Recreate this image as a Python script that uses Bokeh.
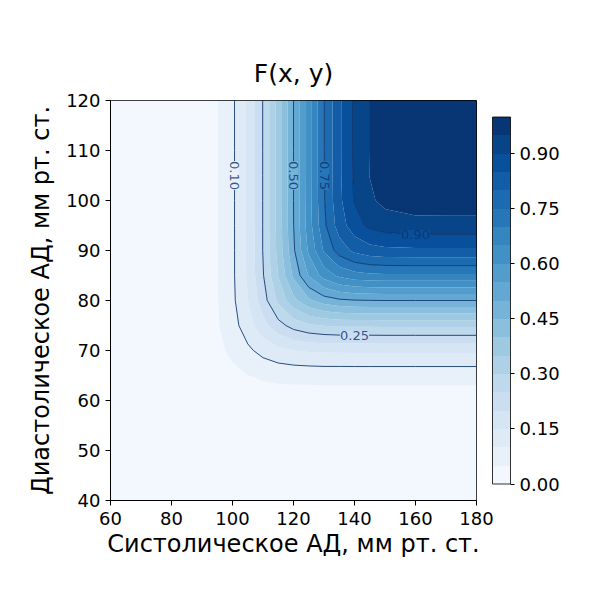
import numpy as np

from bokeh.core.properties import value
from bokeh.embed import file_html
from bokeh.models import (ColorBar,
                          ColumnDataSource,
                          FixedTicker,
                          LinearColorMapper,
                          PrintfTickFormatter)
from bokeh.palettes import Blues256
from bokeh.plotting import figure
from bokeh.resources import INLINE

# Grid of the joint distribution function F(x, y), estimated from the bands
# and contour lines of the picture.  x - systolic, y - diastolic, mm Hg.
SYS_BP = [60, 80, 90, 95, 100, 105, 110, 115, 120, 125, 130, 135, 140,
          145, 150, 160, 170, 180]
DIA_BP = [40, 50, 55, 60, 65, 70, 75, 80, 85, 90, 95, 100, 105, 110, 120]

# one row per DIA_BP value, one column per SYS_BP value
F_TABLE = [
    [0.000, 0.000, 0.000, 0.000, 0.000, 0.000, 0.000, 0.000, 0.000,
     0.000, 0.000, 0.000, 0.000, 0.000, 0.000, 0.000, 0.000, 0.000],
    [0.000, 0.001, 0.001, 0.001, 0.001, 0.001, 0.001, 0.001, 0.001,
     0.001, 0.001, 0.001, 0.001, 0.001, 0.001, 0.001, 0.001, 0.001],
    [0.000, 0.001, 0.003, 0.005, 0.005, 0.006, 0.006, 0.006, 0.006,
     0.006, 0.006, 0.006, 0.006, 0.006, 0.006, 0.006, 0.006, 0.006],
    [0.000, 0.002, 0.008, 0.013, 0.017, 0.020, 0.021, 0.022, 0.023,
     0.023, 0.023, 0.023, 0.023, 0.023, 0.023, 0.023, 0.023, 0.023],
    [0.000, 0.003, 0.015, 0.025, 0.037, 0.049, 0.058, 0.063, 0.065,
     0.066, 0.067, 0.067, 0.067, 0.067, 0.067, 0.067, 0.067, 0.067],
    [0.000, 0.004, 0.020, 0.037, 0.062, 0.090, 0.117, 0.137, 0.149,
     0.155, 0.158, 0.158, 0.159, 0.159, 0.159, 0.159, 0.159, 0.159],
    [0.000, 0.004, 0.022, 0.045, 0.080, 0.128, 0.182, 0.231, 0.269,
     0.291, 0.302, 0.307, 0.308, 0.308, 0.309, 0.309, 0.309, 0.309],
    [0.000, 0.004, 0.023, 0.047, 0.089, 0.149, 0.227, 0.310, 0.385,
     0.441, 0.474, 0.491, 0.497, 0.499, 0.500, 0.500, 0.500, 0.500],
    [0.000, 0.004, 0.023, 0.048, 0.091, 0.157, 0.246, 0.352, 0.460,
     0.553, 0.621, 0.661, 0.681, 0.688, 0.691, 0.691, 0.691, 0.691],
    [0.000, 0.004, 0.023, 0.048, 0.091, 0.158, 0.252, 0.366, 0.491,
     0.609, 0.706, 0.773, 0.812, 0.831, 0.838, 0.841, 0.841, 0.841],
    [0.000, 0.004, 0.023, 0.048, 0.091, 0.159, 0.252, 0.369, 0.499,
     0.627, 0.738, 0.824, 0.879, 0.911, 0.925, 0.933, 0.933, 0.933],
    [0.000, 0.004, 0.023, 0.048, 0.091, 0.159, 0.252, 0.369, 0.500,
     0.630, 0.746, 0.838, 0.903, 0.942, 0.963, 0.976, 0.977, 0.977],
    [0.000, 0.004, 0.023, 0.048, 0.091, 0.159, 0.252, 0.369, 0.500,
     0.631, 0.747, 0.841, 0.908, 0.951, 0.975, 0.991, 0.994, 0.994],
    [0.000, 0.004, 0.023, 0.048, 0.091, 0.159, 0.252, 0.369, 0.500,
     0.631, 0.748, 0.841, 0.909, 0.952, 0.977, 0.995, 0.998, 0.999],
    [0.000, 0.004, 0.023, 0.048, 0.091, 0.159, 0.252, 0.369, 0.500,
     0.631, 0.748, 0.841, 0.909, 0.952, 0.977, 0.996, 1.000, 1.000],
]

FILL_LEVELS = [0.0, 0.05, 0.10, 0.15, 0.20, 0.25, 0.30, 0.35, 0.40, 0.45,
               0.50, 0.55, 0.60, 0.65, 0.70, 0.75, 0.80, 0.85, 0.90, 0.95,
               1.0]
LINE_LEVELS = [0.10, 0.25, 0.50, 0.75, 0.90]

# inline contour labels: level, grid row/column they sit on, orientation
LABEL_LEVELS = [0.10, 0.50, 0.75, 0.25, 0.90]
LABEL_ALONG = [105, 105, 105, 140, 160]
LABEL_VERTICAL = [True, True, True, False, False]

X_TICKS = [60, 80, 100, 120, 140, 160, 180]
Y_TICKS = [40, 50, 60, 70, 80, 90, 100, 110, 120]
CBAR_TICKS = [0.0, 0.15, 0.30, 0.45, 0.60, 0.75, 0.90]

FONT = "DejaVu Sans"
LINE_COLOR = "#08306b"


def band_colors():
    # matplotlib-like: each band takes the colour of its middle value
    light_to_dark = Blues256[::-1]
    mids = [(low + high) / 2
            for low, high in zip(FILL_LEVELS[:-1], FILL_LEVELS[1:])]
    return [light_to_dark[min(int(mid * 256), 255)] for mid in mids]


def label_source(z, colors):
    xs, ys, angles, backgrounds = [], [], [], []
    for level, along, vertical in zip(LABEL_LEVELS,
                                      LABEL_ALONG,
                                      LABEL_VERTICAL):
        if vertical:
            row = z[DIA_BP.index(along)]
            xs.append(float(np.interp(level, row, SYS_BP)))
            ys.append(along)
            angles.append(-np.pi / 2)
        else:
            col = z[:, SYS_BP.index(along)]
            xs.append(along)
            ys.append(float(np.interp(level, col, DIA_BP)))
            angles.append(0.)
        backgrounds.append(colors[int(round(level / 0.05)) - 1])
    return ColumnDataSource(data=dict(x=xs,
                                      y=ys,
                                      angle=angles,
                                      text=['%.2f' % level
                                            for level in LABEL_LEVELS],
                                      bg=backgrounds))


def plot():
    colors = band_colors()
    z = np.array(F_TABLE)

    p = figure(frame_width=366,
               frame_height=400,
               x_range=(60, 180),
               y_range=(40, 120),
               min_border_left=110,
               min_border_top=100,
               min_border_right=100,
               min_border_bottom=80,
               title="F(x, y)",
               output_backend="svg",
               toolbar_location=None)
    p.background_fill_color = colors[0]

    p.contour(SYS_BP, DIA_BP, z, FILL_LEVELS, fill_color=colors)
    p.contour(SYS_BP, DIA_BP, z, LINE_LEVELS,
              line_color=LINE_COLOR,
              line_alpha=0.85,
              line_width=1)

    p.text(x='x', y='y', text='text', angle='angle',
           source=label_source(z, colors),
           text_align='center',
           text_baseline='middle',
           text_font=value(FONT),
           text_font_size='13px',
           text_color=LINE_COLOR,
           text_alpha=0.8,
           background_fill_color='bg')

    p.title.align = 'center'
    p.title.text_font = FONT
    p.title.text_font_size = '25px'
    p.title.text_font_style = 'normal'
    p.title.text_color = 'black'
    p.title.standoff = 25

    p.xgrid.visible = False
    p.ygrid.visible = False
    p.outline_line_color = 'black'
    p.outline_line_alpha = 1

    p.xaxis.ticker = X_TICKS
    p.yaxis.ticker = Y_TICKS
    p.xaxis.axis_label = "Систолическое АД, мм рт. ст."
    p.yaxis.axis_label = "Диастолическое АД, мм рт. ст."
    for axis in (p.xaxis, p.yaxis):
        axis.axis_line_color = 'black'
        axis.major_tick_line_color = 'black'
        axis.major_tick_out = 5
        axis.major_tick_in = 0
        axis.minor_tick_line_color = None
        axis.major_label_text_font = FONT
        axis.major_label_text_font_size = '18px'
        axis.major_label_text_color = 'black'
        axis.axis_label_text_font = FONT
        axis.axis_label_text_font_size = '24px'
        axis.axis_label_text_font_style = 'normal'
        axis.axis_label_text_color = 'black'
    p.xaxis.major_label_standoff = 6
    p.yaxis.major_label_standoff = 5
    p.xaxis.axis_label_standoff = 2
    p.yaxis.axis_label_standoff = 8

    mapper = LinearColorMapper(palette=colors, low=0, high=1)
    color_bar = ColorBar(color_mapper=mapper,
                         ticker=FixedTicker(ticks=CBAR_TICKS),
                         formatter=PrintfTickFormatter(format="%.2f"),
                         location='center_left',
                         width=18,
                         height=367,
                         padding=16,
                         margin=0,
                         bar_line_color='black',
                         bar_line_width=0.8,
                         major_tick_out=4,
                         major_tick_in=0,
                         major_tick_line_color='black',
                         minor_tick_line_color=None,
                         label_standoff=5,
                         major_label_text_font=FONT,
                         major_label_text_font_size='18px',
                         major_label_text_color='black',
                         background_fill_alpha=0)
    p.add_layout(color_bar, 'right')

    open("out.html", "w").write(file_html(p, INLINE))


plot()
